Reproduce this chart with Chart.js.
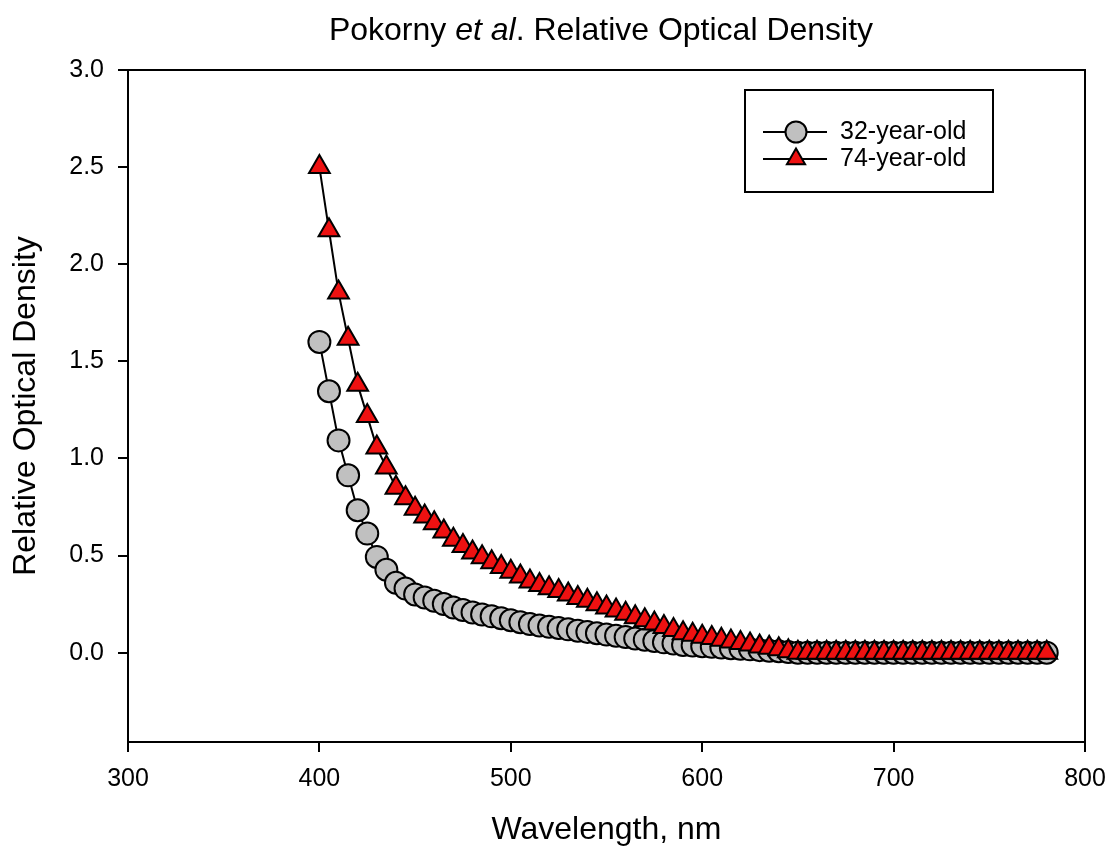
<!DOCTYPE html>
<html>
<head>
<meta charset="utf-8">
<script src="https://cdn.jsdelivr.net/npm/chart.js@4"></script>
<style>
  html, body { margin: 0; padding: 0; background: #ffffff; }
</style>
</head>
<body>
<canvas id="densityChart" width="1111" height="853"></canvas>
<script>
const wavelengths = [
    400, 405, 410, 415, 420, 425, 430, 435, 440, 445,
    450, 455, 460, 465, 470, 475, 480, 485, 490, 495,
    500, 505, 510, 515, 520, 525, 530, 535, 540, 545,
    550, 555, 560, 565, 570, 575, 580, 585, 590, 595,
    600, 605, 610, 615, 620, 625, 630, 635, 640, 645,
    650, 655, 660, 665, 670, 675, 680, 685, 690, 695,
    700, 705, 710, 715, 720, 725, 730, 735, 740, 745,
    750, 755, 760, 765, 770, 775, 780
];

const density32 = [
    1.600, 1.346, 1.093, 0.913, 0.733, 0.613, 0.493, 0.427, 0.360, 0.330,
    0.300, 0.284, 0.267, 0.250, 0.233, 0.220, 0.207, 0.197, 0.187, 0.177,
    0.167, 0.157, 0.147, 0.140, 0.133, 0.127, 0.120, 0.113, 0.107, 0.100,
    0.093, 0.087, 0.080, 0.073, 0.067, 0.060, 0.053, 0.047, 0.040, 0.037,
    0.033, 0.030, 0.027, 0.023, 0.020, 0.017, 0.013, 0.010, 0.007, 0.003,
    0, 0, 0, 0, 0, 0, 0, 0, 0, 0,
    0, 0, 0, 0, 0, 0, 0, 0, 0, 0,
    0, 0, 0, 0, 0, 0, 0
];

const density74 = [
    2.500, 2.175, 1.855, 1.616, 1.380, 1.218, 1.056, 0.953, 0.849, 0.795,
    0.741, 0.701, 0.666, 0.624, 0.581, 0.549, 0.516, 0.491, 0.466, 0.441,
    0.416, 0.392, 0.367, 0.349, 0.332, 0.317, 0.299, 0.282, 0.267, 0.249,
    0.232, 0.217, 0.200, 0.182, 0.167, 0.150, 0.132, 0.117, 0.100, 0.092,
    0.082, 0.075, 0.067, 0.057, 0.050, 0.042, 0.032, 0.025, 0.017, 0.007,
    0, 0, 0, 0, 0, 0, 0, 0, 0, 0,
    0, 0, 0, 0, 0, 0, 0, 0, 0, 0,
    0, 0, 0, 0, 0, 0, 0
];

const seriesLabels = ['32-year-old', '74-year-old'];
const yTickValues = [0, 0.5, 1.0, 1.5, 2.0, 2.5, 3.0];

const FONT = '"Liberation Sans", Arial, sans-serif';
const GREY = '#c0c0c0';
const RED = '#ee1111';

function toPoints(ys) {
    return wavelengths.map((w, i) => ({ x: w, y: ys[i] }));
}

// outer box round the plot area
const framePlugin = {
    id: 'frame',
    afterDraw(chart) {
        const { ctx, chartArea } = chart;
        ctx.save();
        ctx.strokeStyle = '#000';
        ctx.lineWidth = 2;
        ctx.strokeRect(chartArea.left, chartArea.top,
            chartArea.right - chartArea.left, chartArea.bottom - chartArea.top);
        ctx.restore();
    }
};

// title with the italic "et al"
const titlePlugin = {
    id: 'mixedTitle',
    afterDraw(chart) {
        const ctx = chart.ctx;
        const parts = [
            { text: 'Pokorny ', italic: false },
            { text: 'et al', italic: true },
            { text: '. Relative Optical Density', italic: false }
        ];
        const size = 32;
        ctx.save();
        ctx.fillStyle = '#000';
        ctx.textBaseline = 'alphabetic';
        let total = 0;
        parts.forEach(p => {
            ctx.font = (p.italic ? 'italic ' : '') + size + 'px ' + FONT;
            p.w = ctx.measureText(p.text).width;
            total += p.w;
        });
        let x = 601 - total / 2;
        parts.forEach(p => {
            ctx.font = (p.italic ? 'italic ' : '') + size + 'px ' + FONT;
            ctx.fillText(p.text, x, 40);
            x += p.w;
        });
        ctx.restore();
    }
};

// boxed legend: line through marker, label on the right
const legendPlugin = {
    id: 'boxLegend',
    afterDraw(chart) {
        const ctx = chart.ctx;
        ctx.save();
        ctx.strokeStyle = '#000';
        ctx.lineWidth = 2;
        ctx.strokeRect(745, 90, 248, 102);
        const rows = [132, 159];
        chart.data.datasets.forEach((ds, i) => {
            const y = rows[i];
            ctx.strokeStyle = '#000';
            ctx.lineWidth = 2;
            ctx.beginPath();
            ctx.moveTo(763, y);
            ctx.lineTo(827, y);
            ctx.stroke();

            const r = 10.5;
            const cx = 796;
            ctx.beginPath();
            if (ds.pointStyle === 'triangle') {
                let rad = 0;
                ctx.moveTo(cx + Math.sin(rad) * r, y - Math.cos(rad) * r);
                rad += Math.PI * 2 / 3;
                ctx.lineTo(cx + Math.sin(rad) * r, y - Math.cos(rad) * r);
                rad += Math.PI * 2 / 3;
                ctx.lineTo(cx + Math.sin(rad) * r, y - Math.cos(rad) * r);
                ctx.closePath();
            } else {
                ctx.arc(cx, y, r, 0, Math.PI * 2);
            }
            ctx.fillStyle = ds.pointBackgroundColor;
            ctx.fill();
            ctx.lineWidth = 2;
            ctx.stroke();

            ctx.fillStyle = '#000';
            ctx.font = '25px ' + FONT;
            ctx.textBaseline = 'middle';
            ctx.fillText(ds.label, 840, y);
        });
        ctx.restore();
    }
};

const ctx = document.getElementById('densityChart').getContext('2d');
const densityChart = new Chart(ctx, {
    type: 'line',
    data: {
        datasets: [
            {
                label: seriesLabels[0],
                data: toPoints(density32),
                borderColor: '#000',
                borderWidth: 2,
                pointStyle: 'circle',
                pointRadius: 11,
                pointBackgroundColor: GREY,
                pointBorderColor: '#000',
                pointBorderWidth: 2,
                tension: 0,
                order: 2
            },
            {
                label: seriesLabels[1],
                data: toPoints(density74),
                borderColor: '#000',
                borderWidth: 2,
                pointStyle: 'triangle',
                pointRadius: 12,
                pointBackgroundColor: RED,
                pointBorderColor: '#000',
                pointBorderWidth: 2,
                tension: 0,
                order: 1
            }
        ]
    },
    options: {
        responsive: false,
        animation: false,
        events: [],
        layout: { padding: { top: 70, right: 26, left: 0, bottom: 0 } },
        plugins: {
            legend: { display: false },
            tooltip: { enabled: false },
            title: { display: false }
        },
        scales: {
            x: {
                type: 'linear',
                min: 300,
                max: 800,
                afterFit(scale) {
                    scale.height = 111;
                    scale.paddingLeft = 0;
                    scale.paddingRight = 0;
                },
                border: { display: false },
                grid: {
                    drawOnChartArea: false,
                    drawTicks: true,
                    tickLength: 10,
                    color: '#000',
                    lineWidth: 2
                },
                ticks: {
                    stepSize: 100,
                    padding: 12,
                    color: '#000',
                    font: { family: FONT, size: 25 },
                    maxRotation: 0
                },
                title: {
                    display: true,
                    text: 'Wavelength, nm',
                    color: '#000',
                    font: { family: FONT, size: 32 },
                    padding: { top: 0, bottom: 4 }
                }
            },
            y: {
                min: -0.46,
                max: 3.0,
                afterFit(scale) { scale.width = 128; },
                afterBuildTicks(scale) {
                    scale.ticks = yTickValues.map(v => ({ value: v }));
                },
                border: { display: false },
                grid: {
                    drawOnChartArea: false,
                    drawTicks: true,
                    tickLength: 10,
                    color: '#000',
                    lineWidth: 2
                },
                ticks: {
                    padding: 14,
                    color: '#000',
                    font: { family: FONT, size: 25 },
                    callback: v => v.toFixed(1)
                },
                title: {
                    display: true,
                    text: 'Relative Optical Density',
                    color: '#000',
                    font: { family: FONT, size: 32 },
                    padding: { top: 7, bottom: 0 }
                }
            }
        }
    },
    plugins: [framePlugin, titlePlugin, legendPlugin]
});
</script>
</body>
</html>
